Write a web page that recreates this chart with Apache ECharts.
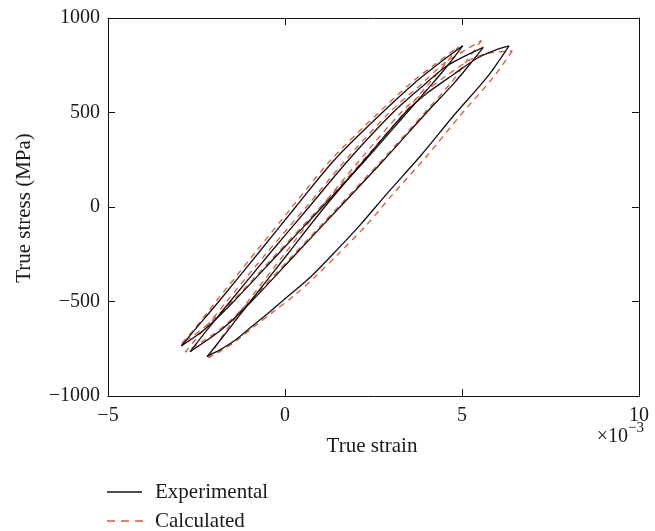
<!DOCTYPE html>
<html>
<head>
<meta charset="utf-8">
<script src="https://cdn.jsdelivr.net/npm/echarts@6/dist/echarts.min.js"></script>
<style>
html,body{margin:0;padding:0;background:#fff;}
#chart{width:655px;height:531px;}
</style>
</head>
<body>
<div id="chart"></div>
<script>
// Strain in units of 1e-3, stress in MPa
const xTicks = [-5, 0, 5, 10];
const yTicks = [-1000, -500, 0, 500, 1000];
const legendNames = ['Experimental', 'Calculated'];

// Experimental loops (loading = upper-left branch, unloading = lower-right branch)
const expA_load = [[-2.93,-735],[-2.55,-650],[-1.87,-500],[-0.78,-250],[0.3,0],[1.4,250],[2.75,500],[3.62,650],[4.28,750],[5.02,853]];
const expA_unload = [[5.02,853],[4.6,750],[4.15,650],[3.45,500],[2.28,250],[1.05,0],[-0.2,-250],[-1.45,-500],[-2.28,-650],[-2.93,-735]];
const expB_load = [[-2.68,-765],[-2.2,-650],[-1.55,-500],[-0.45,-250],[0.68,0],[1.8,250],[3.05,500],[3.95,650],[4.6,750],[5.6,845]];
const expB_unload = [[5.6,845],[5.2,750],[4.75,650],[4.0,500],[2.8,250],[1.55,0],[0.3,-250],[-0.95,-500],[-1.8,-650],[-2.68,-765]];
const expC_load = [[-2.2,-792],[-1.6,-650],[-0.98,-500],[0.07,-250],[1.12,0],[2.25,250],[3.4,500],[4.0,600],[4.75,700],[5.45,790],[5.95,831],[6.33,853]];
const expC_unload = [[6.33,853],[5.72,690],[4.75,480],[3.85,275],[2.9,75],[2.1,-100],[1.35,-250],[0.72,-370],[0.1,-470],[-0.4,-550],[-0.92,-630],[-1.4,-704],[-1.85,-757],[-2.21,-790]];

// Calculated loops
const calA_load = [[-2.92,-722],[-2.58,-650],[-1.95,-500],[-0.88,-250],[0.2,0],[1.3,250],[2.65,500],[3.52,650],[4.2,750],[4.9,848]];
const calA_unload = [[4.9,848],[4.5,750],[4.05,650],[3.38,500],[2.22,250],[1.0,0],[-0.25,-250],[-1.5,-500],[-2.3,-640],[-2.92,-722]];
const calB_load = [[-2.82,-768],[-2.3,-650],[-1.65,-500],[-0.55,-250],[0.6,0],[1.72,250],[2.95,500],[3.85,650],[4.5,760],[5.55,880]];
const calB_unload = [[5.55,880],[5.12,770],[4.7,660],[3.95,500],[2.75,250],[1.5,0],[0.25,-250],[-1.0,-500],[-1.85,-650],[-2.82,-768]];
const calC_load = [[-2.16,-797],[-1.65,-650],[-1.05,-500],[-0.02,-250],[1.02,0],[2.12,250],[3.28,500],[3.88,600],[4.6,700],[5.35,790],[5.9,818],[6.42,826]];
const calC_unload = [[6.42,826],[5.9,690],[4.93,480],[4.03,275],[3.08,75],[2.28,-100],[1.5,-250],[0.85,-370],[0.25,-470],[-0.3,-550],[-0.85,-630],[-1.35,-704],[-1.8,-760],[-2.16,-797]];

const expBranches = [expA_load, expA_unload, expB_load, expB_unload, expC_load, expC_unload];
const calBranches = [calA_load, calA_unload, calB_load, calB_unload, calC_load, calC_unload];

const FONT = 'Liberation Serif';
const TXT = '#1a1a1a';
const RED = '#e0583a';
const fmt = v => (v < 0 ? '\u2212' + Math.abs(v) : String(v));

const chart = echarts.init(document.getElementById('chart'), null, {renderer: 'canvas'});

const series = [];
expBranches.forEach(d => series.push({
  name: legendNames[0], type: 'line', data: d, showSymbol: false, symbol: 'none', smooth: 0.3,
  lineStyle: {color: '#111', width: 1.3, type: 'solid'}, itemStyle: {color: '#111'},
  xAxisIndex: 0, yAxisIndex: 0, z: 3, animation: false, silent: true
}));
calBranches.forEach(d => series.push({
  name: legendNames[1], type: 'line', data: d, showSymbol: false, symbol: 'none', smooth: 0.3,
  lineStyle: {color: RED, width: 1.3, type: [6, 5]}, itemStyle: {color: RED},
  xAxisIndex: 0, yAxisIndex: 0, z: 2, animation: false, silent: true
}));

const axisCommon = {
  type: 'value',
  axisLine: {show: true, onZero: false, lineStyle: {color: '#111', width: 1}},
  axisTick: {show: true, inside: true, length: 7, lineStyle: {color: '#111', width: 1}},
  splitLine: {show: false}
};

chart.setOption({
  animation: false,
  backgroundColor: '#fff',
  grid: {left: 108, right: 16, top: 18, bottom: 135, containLabel: false},
  xAxis: [
    Object.assign({}, axisCommon, {position: 'bottom', min: xTicks[0], max: xTicks[xTicks.length-1], interval: 5,
      axisLabel: {show: true, margin: 10, color: TXT, fontFamily: FONT, fontSize: 20, formatter: fmt}}),
    Object.assign({}, axisCommon, {position: 'top', min: xTicks[0], max: xTicks[xTicks.length-1], interval: 5,
      axisLabel: {show: false}})
  ],
  yAxis: [
    Object.assign({}, axisCommon, {position: 'left', min: yTicks[0], max: yTicks[yTicks.length-1], interval: 500,
      axisLabel: {show: true, margin: 8, color: TXT, fontFamily: FONT, fontSize: 20, formatter: fmt}}),
    Object.assign({}, axisCommon, {position: 'right', min: yTicks[0], max: yTicks[yTicks.length-1], interval: 500,
      axisLabel: {show: false}})
  ],
  graphic: [
    {type: 'text', x: 372, y: 446, style: {text: 'True strain', textAlign: 'center', textVerticalAlign: 'middle', font: '21px "Liberation Serif"', fill: TXT}},
    {type: 'text', x: 24, y: 208, rotation: Math.PI / 2, style: {text: 'True stress (MPa)', textAlign: 'center', textVerticalAlign: 'middle', font: '21px "Liberation Serif"', fill: TXT}},
    {type: 'text', x: 628, y: 437, style: {text: '\u00d710', textAlign: 'right', textVerticalAlign: 'middle', font: '20px "Liberation Serif"', fill: TXT}},
    {type: 'text', x: 628, y: 428, style: {text: '\u22123', textAlign: 'left', textVerticalAlign: 'middle', font: '15px "Liberation Serif"', fill: TXT}},
    // legend
    {type: 'line', shape: {x1: 107, y1: 492, x2: 142, y2: 492}, style: {stroke: '#111', lineWidth: 1.3}},
    {type: 'text', x: 155, y: 492, style: {text: legendNames[0], textAlign: 'left', textVerticalAlign: 'middle', font: '21px "Liberation Serif"', fill: TXT}},
    {type: 'line', shape: {x1: 107, y1: 521, x2: 143, y2: 521}, style: {stroke: RED, lineWidth: 1.3, lineDash: [8, 6]}},
    {type: 'text', x: 155, y: 521, style: {text: legendNames[1], textAlign: 'left', textVerticalAlign: 'middle', font: '21px "Liberation Serif"', fill: TXT}}
  ],
  series: series
});
</script>
</body>
</html>
